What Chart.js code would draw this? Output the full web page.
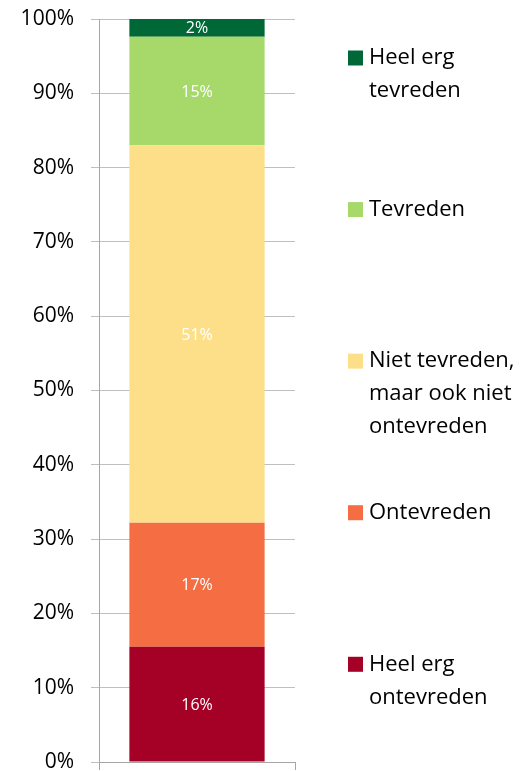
<!DOCTYPE html>
<html>
<head>
<meta charset="utf-8">
<script src="https://cdn.jsdelivr.net/npm/chart.js@4.4.0/dist/chart.umd.min.js"></script>
<style>
  html, body { margin: 0; padding: 0; background: #fff; }
  #wrap { width: 527px; height: 771px; }
</style>
</head>
<body>
<div id="wrap"><canvas id="chart"></canvas></div>
<script>
// Data (van onder naar boven)
const categories = [''];
const seriesNames = [
    'Heel erg ontevreden',
    'Ontevreden',
    'Niet tevreden, maar ook niet ontevreden',
    'Tevreden',
    'Heel erg tevreden'
];
const seriesValues = [15.5, 16.7, 50.8, 14.6, 2.4];
const valueLabels = ['16%', '17%', '51%', '15%', '2%'];
const legendLines = [
    ['Heel erg', 'ontevreden'],
    ['Ontevreden'],
    ['Niet tevreden,', 'maar ook niet', 'ontevreden'],
    ['Tevreden'],
    ['Heel erg', 'tevreden']
];
const yTicks = [0, 10, 20, 30, 40, 50, 60, 70, 80, 90, 100];
const colors = ['#a50026', '#f46d43', '#fedf89', '#a6d96a', '#006837'];

const fontFamily = '"Open Sans", sans-serif';

// Labels in de balk
const barLabels = {
    id: 'barLabels',
    afterDatasetsDraw(chart) {
        const ctx = chart.ctx;
        ctx.save();
        ctx.fillStyle = '#fff';
        ctx.font = '16px ' + fontFamily;
        ctx.textAlign = 'center';
        ctx.textBaseline = 'middle';
        chart.data.datasets.forEach((ds, i) => {
            const bar = chart.getDatasetMeta(i).data[0];
            ctx.fillText(valueLabels[i], bar.x, (bar.y + bar.base) / 2 + 1);
        });
        ctx.restore();
    }
};

// Legenda rechts, van boven naar onder
const sideLegend = {
    id: 'sideLegend',
    afterDraw(chart) {
        const ctx = chart.ctx;
        const area = chart.chartArea;
        const x = area.right + 53;
        const step = area.height * 0.204;
        const lineH = 33;
        ctx.save();
        ctx.font = '22px ' + fontFamily;
        ctx.textBaseline = 'middle';
        ctx.textAlign = 'left';
        for (let k = 0; k < seriesNames.length; k++) {
            const i = seriesNames.length - 1 - k;
            const y = area.top + 39 + k * step;
            ctx.fillStyle = colors[i];
            ctx.fillRect(x, y - 7.5, 15, 15);
            ctx.fillStyle = '#000';
            legendLines[i].forEach((line, j) => {
                ctx.fillText(line, x + 21, y + j * lineH);
            });
        }
        ctx.restore();
    }
};

new Chart(document.getElementById('chart'), {
    type: 'bar',
    data: {
        labels: categories,
        datasets: seriesNames.map((name, i) => ({
            label: name,
            data: [seriesValues[i]],
            backgroundColor: colors[i],
            borderWidth: 0,
            categoryPercentage: 1,
            barPercentage: 0.69
        }))
    },
    options: {
        responsive: true,
        maintainAspectRatio: false,
        animation: false,
        layout: { padding: { top: 19, right: 232, bottom: 1, left: 0 } },
        plugins: {
            legend: { display: false },
            tooltip: { enabled: false }
        },
        scales: {
            x: {
                stacked: true,
                afterFit(scale) {
                    scale.height = 8;
                    scale.paddingLeft = 0;
                    scale.paddingRight = 0;
                },
                grid: {
                    offset: true,
                    drawOnChartArea: false,
                    drawTicks: true,
                    tickLength: 8,
                    color: '#a6a6a6'
                },
                border: { color: '#a6a6a6' },
                ticks: { display: false }
            },
            y: {
                stacked: true,
                min: 0,
                max: 100,
                afterBuildTicks(scale) {
                    scale.ticks = yTicks.map(v => ({ value: v }));
                },
                afterFit(scale) {
                    scale.width = 99;
                    scale.paddingTop = 0;
                    scale.paddingBottom = 0;
                },
                grid: {
                    color: '#bfbfbf',
                    tickLength: 8
                },
                border: { color: '#a6a6a6' },
                ticks: {
                    padding: 17,
                    color: '#000',
                    font: { family: fontFamily, size: 21 },
                    callback: v => v + '%'
                }
            }
        }
    },
    plugins: [barLabels, sideLegend]
});
</script>
</body>
</html>
